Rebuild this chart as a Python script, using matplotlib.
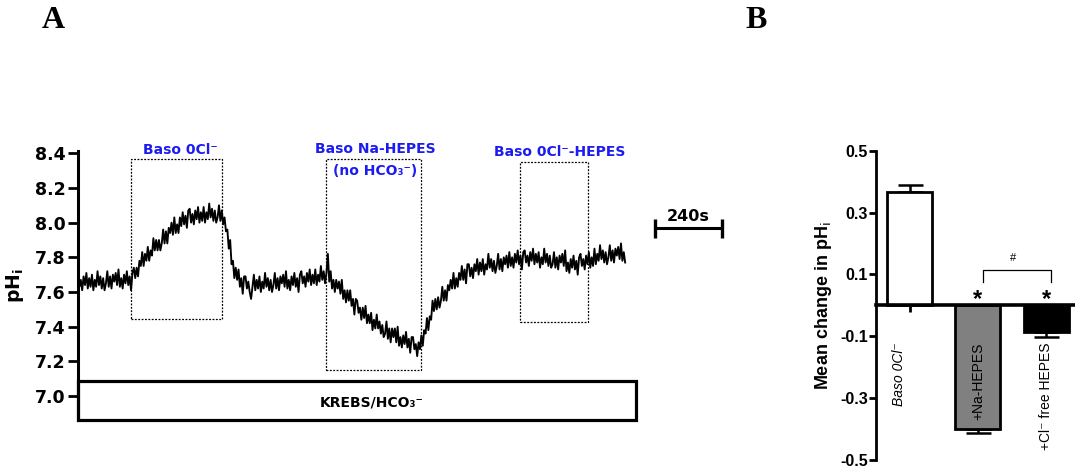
import matplotlib
matplotlib.use('Agg')
import matplotlib.pyplot as plt
from matplotlib.patches import Rectangle

# ---------------- Panel A data ----------------
trace_dt = 5  # seconds between samples
trace_ph = [
    7.70, 7.63, 7.67, 7.61, 7.69, 7.64, 7.71, 7.62, 7.68, 7.63, 7.70, 7.61, 7.67, 7.63, 7.72, 7.64, 7.69, 7.62, 7.68, 7.61,
    7.65, 7.72, 7.63, 7.69, 7.62, 7.70, 7.66, 7.71, 7.64, 7.73, 7.63, 7.68, 7.62, 7.70, 7.65, 7.72, 7.64, 7.69, 7.61, 7.71,
    7.74, 7.68, 7.74, 7.69, 7.78, 7.75, 7.83, 7.75, 7.82, 7.78, 7.86, 7.78, 7.84, 7.81, 7.91, 7.84, 7.90, 7.84, 7.90, 7.84,
    7.88, 7.96, 7.88, 7.95, 7.88, 7.97, 7.94, 8.00, 7.93, 8.03, 7.94, 7.99, 7.94, 8.03, 7.98, 8.06, 7.99, 8.04, 7.97, 8.07,
    8.08, 8.00, 8.05, 7.99, 8.07, 8.02, 8.09, 8.00, 8.06, 8.01, 8.09, 8.00, 8.06, 8.02, 8.11, 8.03, 8.08, 8.01, 8.07, 8.00,
    8.03, 8.10, 8.01, 8.07, 7.99, 8.03, 7.95, 7.96, 7.85, 7.90, 7.76, 7.78, 7.68, 7.74, 7.67, 7.73, 7.63, 7.68, 7.59, 7.69,
    7.69, 7.62, 7.66, 7.60, 7.56, 7.63, 7.70, 7.61, 7.67, 7.62, 7.69, 7.60, 7.66, 7.62, 7.71, 7.63, 7.68, 7.61, 7.67, 7.60,
    7.64, 7.71, 7.62, 7.68, 7.61, 7.69, 7.65, 7.70, 7.63, 7.72, 7.62, 7.67, 7.61, 7.69, 7.64, 7.71, 7.63, 7.68, 7.60, 7.70,
    7.72, 7.65, 7.69, 7.63, 7.71, 7.66, 7.73, 7.64, 7.70, 7.65, 7.73, 7.64, 7.70, 7.66, 7.75, 7.67, 7.72, 7.65, 7.71, 7.82,
    7.66, 7.72, 7.62, 7.67, 7.60, 7.67, 7.62, 7.66, 7.59, 7.67, 7.56, 7.61, 7.54, 7.61, 7.55, 7.61, 7.52, 7.56, 7.47, 7.56,
    7.55, 7.48, 7.51, 7.44, 7.51, 7.45, 7.52, 7.42, 7.47, 7.42, 7.48, 7.38, 7.44, 7.39, 7.47, 7.39, 7.43, 7.36, 7.41, 7.34,
    7.36, 7.43, 7.33, 7.39, 7.31, 7.39, 7.34, 7.39, 7.31, 7.40, 7.29, 7.34, 7.28, 7.35, 7.30, 7.37, 7.28, 7.33, 7.25, 7.34,
    7.34, 7.27, 7.30, 7.23, 7.31, 7.27, 7.35, 7.29, 7.38, 7.36, 7.45, 7.38, 7.46, 7.44, 7.55, 7.49, 7.56, 7.50, 7.57, 7.51,
    7.55, 7.63, 7.55, 7.61, 7.55, 7.64, 7.61, 7.67, 7.62, 7.71, 7.62, 7.68, 7.63, 7.71, 7.67, 7.75, 7.67, 7.73, 7.65, 7.76,
    7.76, 7.69, 7.74, 7.68, 7.76, 7.72, 7.79, 7.70, 7.77, 7.72, 7.79, 7.70, 7.76, 7.73, 7.82, 7.74, 7.79, 7.72, 7.78, 7.71,
    7.75, 7.82, 7.73, 7.79, 7.72, 7.80, 7.76, 7.81, 7.74, 7.83, 7.75, 7.80, 7.74, 7.82, 7.77, 7.84, 7.76, 7.81, 7.73, 7.83,
    7.84, 7.77, 7.81, 7.75, 7.83, 7.78, 7.85, 7.76, 7.82, 7.77, 7.83, 7.74, 7.80, 7.76, 7.85, 7.77, 7.82, 7.75, 7.81, 7.74,
    7.76, 7.83, 7.74, 7.80, 7.73, 7.81, 7.77, 7.82, 7.75, 7.84, 7.72, 7.77, 7.71, 7.79, 7.74, 7.81, 7.73, 7.78, 7.70, 7.80,
    7.82, 7.75, 7.79, 7.73, 7.81, 7.76, 7.83, 7.74, 7.80, 7.75, 7.85, 7.76, 7.82, 7.78, 7.87, 7.79, 7.84, 7.77, 7.83, 7.76,
    7.80, 7.87, 7.78, 7.84, 7.77, 7.85, 7.81, 7.86, 7.79, 7.88, 7.78, 7.83, 7.77,
]
trace_time = [i * trace_dt for i in range(len(trace_ph))]

yticks_a = [7.0, 7.2, 7.4, 7.6, 7.8, 8.0, 8.2, 8.4]
ytick_labels_a = ['7.0', '7.2', '7.4', '7.6', '7.8', '8.0', '8.2', '8.4']

# perfusion windows (seconds / pH)
window_start = [190, 888, 1583]
window_end = [516, 1229, 1827]
window_low = [7.444, 7.150, 7.427]
window_high = [8.365, 8.365, 8.348]

krebs_end = 2000           # s, end of KREBS/HCO3- bar
krebs_top = 7.088          # pH level of the bar top
scale_bar_len = 240        # s

# ---------------- Panel B data ----------------
categories = ['Baso 0Cl⁻', '+Na-HEPES', '+Cl⁻ free HEPES']
mean_change = [0.365, -0.401, -0.085]
sem_up = [0.023, 0.0, 0.0]
sem_down = [0.0, 0.013, 0.016]
bar_colors = ['white', '#808080', 'black']
yticks_b = [-0.5, -0.3, -0.1, 0.1, 0.3, 0.5]
ytick_labels_b = ['-0.5', '-0.3', '-0.1', '0.1', '0.3', '0.5']

# ---------------- Figure ----------------
W, H = 1075, 468
fig = plt.figure(figsize=(W / 100, H / 100), dpi=100)

blue = '#1c1cf0'
fa = ['DejaVu Sans']
fb = ['Liberation Sans', 'DejaVu Sans']

# ----- Panel A -----
sec_per_px = 240 / 67.0
axA = fig.add_axes([78 / W, 48 / H, 652 / W, 269 / H])
axA.plot(trace_time, trace_ph, color='black', lw=1.35)
axA.set_xlim(0, 652 * sec_per_px)
axA.set_ylim(6.862, 8.413)
for s in ['top', 'right', 'bottom']:
    axA.spines[s].set_visible(False)
axA.spines['left'].set_linewidth(2.2)
axA.set_xticks([])
axA.set_yticks(yticks_a)
axA.set_yticklabels(ytick_labels_a, fontsize=12.5, fontweight='bold', family=fa)
axA.tick_params(axis='y', length=7, width=2.0, pad=2)
axA.set_ylabel('pH$_\\mathbf{i}$', fontsize=13.5, fontweight='bold', family=fa, labelpad=6)

for x0, x1, y0, y1 in zip(window_start, window_end, window_low, window_high):
    axA.add_patch(Rectangle((x0, y0), x1 - x0, y1 - y0, fill=False,
                            edgecolor='black', lw=0.9, linestyle=(0, (1.5, 1.2)),
                            clip_on=False))

ylo = axA.get_ylim()[0]
axA.add_patch(Rectangle((0, ylo), krebs_end, krebs_top - ylo, fill=False,
                        edgecolor='black', lw=2.3, clip_on=False, zorder=3))
axA.text(1053, 6.965, 'KREBS/HCO₃⁻', ha='center', va='center', fontsize=10,
         fontweight='bold', family=fa)

axA.text(365, 8.417, 'Baso 0Cl⁻', ha='center', va='center', fontsize=10,
         fontweight='bold', color=blue, family=fa, clip_on=False)
axA.text(1064, 8.425, 'Baso Na-HEPES', ha='center', va='center', fontsize=10,
         fontweight='bold', color=blue, family=fa, clip_on=False)
axA.text(1064, 8.300, '(no HCO₃⁻)', ha='center', va='center', fontsize=10,
         fontweight='bold', color=blue, family=fa, clip_on=False)
axA.text(1726, 8.410, 'Baso 0Cl⁻-HEPES', ha='center', va='center', fontsize=10,
         fontweight='bold', color=blue, family=fa, clip_on=False)

# scale bar
sb0 = 2067
sb_y = 7.968
axA.plot([sb0, sb0 + scale_bar_len], [sb_y, sb_y], color='black', lw=2.2,
         solid_capstyle='butt', clip_on=False)
for xx in (sb0, sb0 + scale_bar_len):
    axA.plot([xx, xx], [sb_y - 0.055, sb_y + 0.055], color='black', lw=2.4,
             solid_capstyle='butt', clip_on=False)
axA.text(sb0 + scale_bar_len / 2, 8.035, f'{scale_bar_len}s', ha='center',
         va='center', fontsize=11.5, fontweight='bold', family=fa)

# ----- Panel B -----
axB = fig.add_axes([876 / W, 8 / H, 199 / W, 309.3 / H])
xpos = list(range(len(categories)))
axB.bar(xpos, mean_change, width=0.66, color=bar_colors, edgecolor='black',
        linewidth=2.0, zorder=2)
axB.errorbar(xpos, mean_change, yerr=[sem_down, sem_up], fmt='none',
             ecolor='black', elinewidth=1.8, capsize=9, capthick=1.8, zorder=1)
axB.set_ylim(-0.5, 0.5)
axB.set_xlim(-0.49, 2.42)
for s in ['top', 'right']:
    axB.spines[s].set_visible(False)
axB.spines['bottom'].set_position(('data', 0))
axB.spines['bottom'].set_linewidth(2.6)
axB.spines['bottom'].set_zorder(3)
axB.spines['left'].set_linewidth(2.0)
axB.set_yticks(yticks_b)
axB.set_yticklabels(ytick_labels_b, fontsize=11.5, fontweight='bold', family=fb)
axB.tick_params(axis='y', length=5, width=2.0, pad=1)
axB.set_xticks(xpos)
axB.set_xticklabels([])
axB.tick_params(axis='x', length=5, width=2.0, direction='out')
axB.set_ylabel('Mean change in pH$_\\mathrm{i}$', fontsize=13, fontweight='bold',
               family=fb, labelpad=4)

label_styles = ['italic', 'normal', 'normal']
for xi, lab, st in zip(xpos, categories, label_styles):
    axB.text(xi - (0.15 if xi == 0 else 0.0), -0.12, lab, rotation=90, ha='center',
             va='top', fontsize=10, style=st, family=fb)

# significance marks
for xi in xpos[1:]:
    axB.text(xi, 0.018, '*', ha='center', va='center', fontsize=17,
             fontweight='bold', family=fb)
bx0, bx1 = xpos[1] + 0.07, xpos[2] + 0.07
axB.plot([bx0, bx0, bx1, bx1], [0.077, 0.115, 0.115, 0.077], color='black', lw=0.9)
axB.text((bx0 + bx1) / 2 - 0.05, 0.152, '#', ha='center', va='center', fontsize=8,
         family=fb)

# panel letters
fig.text(53 / W, 1 - 21 / H, 'A', fontsize=23, fontweight='bold',
         family='Liberation Serif', ha='center', va='center')
fig.text(756 / W, 1 - 21 / H, 'B', fontsize=23, fontweight='bold',
         family='Liberation Serif', ha='center', va='center')

fig.savefig('out.png', dpi=100)
